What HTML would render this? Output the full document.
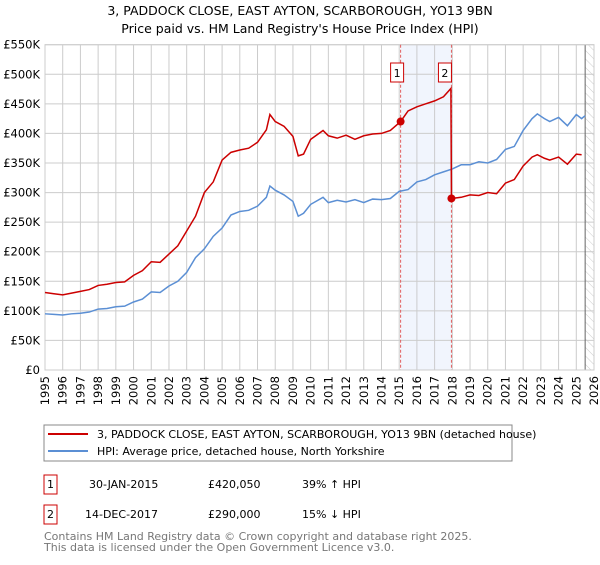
<!DOCTYPE html>
<html><head><meta charset="utf-8"><style>
body{margin:0;background:#fff;font-family:"Liberation Sans","DejaVu Sans",sans-serif;}
svg text{font-family:"DejaVu Sans","Liberation Sans",sans-serif;}
</style></head><body>
<svg id="c" width="600" height="560" xmlns="http://www.w3.org/2000/svg">
<defs><pattern id="hatch" width="6" height="6" patternUnits="userSpaceOnUse" patternTransform="rotate(-45)"><line x1="0" y1="0" x2="0" y2="6" stroke="#ccc" stroke-width="1"/></pattern></defs>
<text x="300" y="15" text-anchor="middle" font-size="12.5">3, PADDOCK CLOSE, EAST AYTON, SCARBOROUGH, YO13 9BN</text>
<text x="300" y="33" text-anchor="middle" font-size="12.5">Price paid vs. HM Land Registry's House Price Index (HPI)</text>
<g id="grid"></g><g id="marks"></g>
<rect x="44" y="425" width="468" height="36" fill="none" stroke="#888"/>
<line x1="48" y1="434" x2="88" y2="434" stroke="#cc0000" stroke-width="2"/>
<text x="97" y="438" font-size="11">3, PADDOCK CLOSE, EAST AYTON, SCARBOROUGH, YO13 9BN (detached house)</text>
<line x1="48" y1="451" x2="88" y2="451" stroke="#5b8fd4" stroke-width="2"/>
<text x="97" y="455" font-size="11">HPI: Average price, detached house, North Yorkshire</text>
<g font-size="11">
<rect x="44" y="475" width="13" height="19" fill="#fff" stroke="#cc0000"/>
<text x="50.5" y="488" text-anchor="middle">1</text>
<text x="89" y="488">30-JAN-2015</text>
<text x="208" y="488">£420,050</text>
<text x="302" y="488">39% ↑ HPI</text>
<rect x="44" y="505" width="13" height="19" fill="#fff" stroke="#cc0000"/>
<text x="50.5" y="518" text-anchor="middle">2</text>
<text x="85" y="518">14-DEC-2017</text>
<text x="208" y="518">£290,000</text>
<text x="302" y="518">15% ↓ HPI</text>
</g>
<text x="44" y="540" font-size="11" fill="#777">Contains HM Land Registry data © Crown copyright and database right 2025.</text>
<text x="44" y="551" font-size="11" fill="#777">This data is licensed under the Open Government Licence v3.0.</text>
</svg>
<script>
const yTicks=[0,50,100,150,200,250,300,350,400,450,500,550];
const xYears=[1995,1996,1997,1998,1999,2000,2001,2002,2003,2004,2005,2006,2007,2008,2009,2010,2011,2012,2013,2014,2015,2016,2017,2018,2019,2020,2021,2022,2023,2024,2025,2026];
const hpiYears=[1995,1995.5,1996,1996.5,1997,1997.5,1998,1998.5,1999,1999.5,2000,2000.5,2001,2001.5,2002,2002.5,2003,2003.5,2004,2004.5,2005,2005.5,2006,2006.5,2007,2007.5,2007.7,2008,2008.5,2009,2009.3,2009.6,2010,2010.7,2011,2011.5,2012,2012.5,2013,2013.5,2014,2014.5,2015,2015.5,2016,2016.5,2017,2017.5,2018,2018.5,2019,2019.5,2020,2020.5,2021,2021.5,2022,2022.5,2022.8,2023.2,2023.5,2024,2024.5,2025,2025.3,2025.5];
const hpiValues=[95,94,93,95,96,98,103,104,107,108,115,120,132,131,142,150,165,190,205,226,240,262,268,270,277,292,311,304,296,285,260,265,280,292,283,287,284,288,283,289,288,290,302,305,318,322,330,335,340,347,347,352,350,356,373,378,405,425,433,425,420,427,413,432,425,430];
const priceYears=[1995,1995.5,1996,1996.5,1997,1997.5,1998,1998.5,1999,1999.5,2000,2000.5,2001,2001.5,2002,2002.5,2003,2003.5,2004,2004.5,2005,2005.5,2006,2006.5,2007,2007.5,2007.7,2008,2008.5,2009,2009.3,2009.6,2010,2010.7,2011,2011.5,2012,2012.5,2013,2013.5,2014,2014.5,2015.08,2015.5,2016,2016.5,2017,2017.5,2017.92,2017.95,2018.5,2019,2019.5,2020,2020.5,2021,2021.5,2022,2022.5,2022.8,2023.2,2023.5,2024,2024.5,2025,2025.3,2025.5];
const priceValues=[131,129,127,130,133,136,143,145,148,149,160,168,183,182,196,210,235,260,300,318,355,368,372,375,385,406,432,420,412,395,362,365,390,405,396,392,397,390,396,399,400,405,420,438,445,450,455,462,476,290,292,296,295,300,298,316,322,345,360,364,358,355,360,348,365,364];
const sales=[{label:'1',year:2015.08,value:420.05},{label:'2',year:2017.95,value:290}];
const saleLabels=['1','2'];
const X0=45,X1=594,Y0=370,Y1=44.7;
const xs=y=>X0+(y-1995)*(X1-X0)/31;
const ys=v=>Y0-v*(Y0-Y1)/550;
const NS='http://www.w3.org/2000/svg';
function mk(tag,attrs,parent){const e=document.createElementNS(NS,tag);for(const k in attrs)e.setAttribute(k,attrs[k]);parent.appendChild(e);return e;}
const g=document.getElementById('grid'),m=document.getElementById('marks');
// shaded region between sales
let sh=mk('rect',{x:xs(sales[0].year),y:Y1,width:xs(sales[1].year)-xs(sales[0].year),height:Y0-Y1,fill:'#eef3fc',opacity:0.8},g);


let hb=mk('rect',{x:xs(2025.5),y:Y1,width:X1-xs(2025.5),height:Y0-Y1,fill:'url(#hatch)'},g);


yTicks.forEach(v=>{
 let l=mk('line',{x1:X0,x2:X1,y1:ys(v),y2:ys(v),stroke:'#ccc'},g);
 
 
 let t=mk('text',{x:40,y:ys(v)+4,'text-anchor':'end','font-size':'11.5'},g);
 t.textContent=v===0?'£0':'£'+v+'K';
 
 
});
xYears.forEach(yr=>{
 let l=mk('line',{x1:xs(yr),x2:xs(yr),y1:Y1,y2:Y0,stroke:'#ccc'},g);
 
 
 let t=mk('text',{x:0,y:0,'text-anchor':'end','font-size':'11.5',transform:`translate(${xs(yr)+4},${Y0+6}) rotate(-90)`},g);
 t.textContent=yr;
 
 
});
let vl=mk('line',{x1:xs(2025.5),x2:xs(2025.5),y1:Y1,y2:Y0,stroke:'#666'},g);


let bd=mk('rect',{x:X0,y:Y1,width:X1-X0,height:Y0-Y1,fill:'none',stroke:'#ccc'},g);


sales.forEach((s,i)=>{
 let l=mk('line',{x1:xs(s.year),x2:xs(s.year),y1:Y1,y2:Y0,stroke:'#e06060','stroke-dasharray':'3,2','stroke-width':1},m);
 
 
});
let hp=mk('polyline',{points:hpiYears.map((y,i)=>xs(y)+','+ys(hpiValues[i])).join(' '),fill:'none',stroke:'#5b8fd4','stroke-width':1.5},m);


let pp=mk('polyline',{points:priceYears.map((y,i)=>xs(y)+','+ys(priceValues[i])).join(' '),fill:'none',stroke:'#cc0000','stroke-width':1.5},m);


sales.forEach((s,i)=>{
 let c=mk('circle',{cx:xs(s.year),cy:ys(s.value),r:4,fill:'#cc0000'},m);
 
 
 let r=mk('rect',{x:xs(s.year)-21+7,y:63,width:13,height:19,fill:'#fff',stroke:'#cc0000'},m);
 r.setAttribute('x',xs(s.year)-(i===0?10:13));
 
 
 let t=mk('text',{x:+r.getAttribute('x')+6.5,y:77,'text-anchor':'middle','font-size':'11'},m);
 t.textContent=saleLabels[i];
 
 
});
</script>
</body></html>
